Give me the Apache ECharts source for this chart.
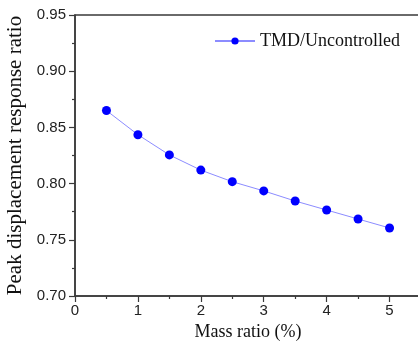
<!DOCTYPE html>
<html>
<head>
<meta charset="utf-8">
<script src="https://cdn.jsdelivr.net/npm/echarts@6/dist/echarts.min.js"></script>
<style>html,body{margin:0;padding:0;background:#fff}#c{width:418px;height:347px}</style>
</head>
<body>
<div id="c"></div>
<script>
const massRatio = [0.5, 1.0, 1.5, 2.0, 2.5, 3.0, 3.5, 4.0, 4.5, 5.0];
const peakRatio = [0.865, 0.8435, 0.8255, 0.812, 0.8017, 0.7935, 0.7845, 0.7765, 0.7685, 0.7605];
const seriesName = 'TMD/Uncontrolled';
const xTitle = 'Mass ratio (%)';
const yTitle = 'Peak displacement response ratio';

const chart = echarts.init(document.getElementById('c'), null, {renderer: 'canvas'});
const axisCol = '#3a3a3a';
chart.setOption({
  animation: false,
  backgroundColor: '#fff',
  grid: {left: 75, top: 15, width: 346, bottom: 51, containLabel: false, outerBoundsMode: 'none',
    show: true, borderColor: axisCol, borderWidth: 1.5, backgroundColor: 'transparent'},
  legend: {
    left: 209, top: 27, itemWidth: 40, itemHeight: 9, itemGap: 6,
    textStyle: {fontFamily: 'Liberation Serif', fontSize: 18, color: '#111'},
    data: [seriesName]
  },
  xAxis: {
    type: 'value', min: 0, max: 5.5, interval: 1,
    name: xTitle, nameLocation: 'middle', nameGap: 22,
    nameTextStyle: {fontFamily: 'Liberation Serif', fontSize: 18, color: '#111'},
    axisLine: {show: true, onZero: false, lineStyle: {color: axisCol, width: 1.5}},
    axisTick: {show: true, inside: false, length: 6, lineStyle: {color: axisCol, width: 1.2}},
    minorTick: {show: true, splitNumber: 2, length: 3, lineStyle: {color: axisCol, width: 1.2}},
    splitLine: {show: false},
    axisLabel: {margin: 7, fontFamily: 'Liberation Sans', fontSize: 15, color: '#222',
      formatter: v => (v <= 5 ? String(v) : '')}
  },
  yAxis: {
    type: 'value', min: 0.70, max: 0.95, interval: 0.05,
    name: yTitle, nameLocation: 'middle', nameGap: 48, nameRotate: 90,
    nameTextStyle: {fontFamily: 'Liberation Serif', fontSize: 21, color: '#111'},
    axisLine: {show: true, onZero: false, lineStyle: {color: axisCol, width: 1.5}},
    axisTick: {show: true, inside: false, length: 6, lineStyle: {color: axisCol, width: 1.2}},
    minorTick: {show: true, splitNumber: 2, length: 3, lineStyle: {color: axisCol, width: 1.2}},
    splitLine: {show: false},
    axisLabel: {margin: 9, fontFamily: 'Liberation Sans', fontSize: 15, color: '#222',
      formatter: v => v.toFixed(2)}
  },
  series: [{
    name: seriesName, type: 'line',
    data: massRatio.map((x, i) => [x, peakRatio[i]]),
    symbol: 'circle', symbolSize: 9,
    itemStyle: {color: '#0000ff'},
    lineStyle: {color: '#8c8cff', width: 1},
    smooth: false
  }]
});
</script>
</body>
</html>
